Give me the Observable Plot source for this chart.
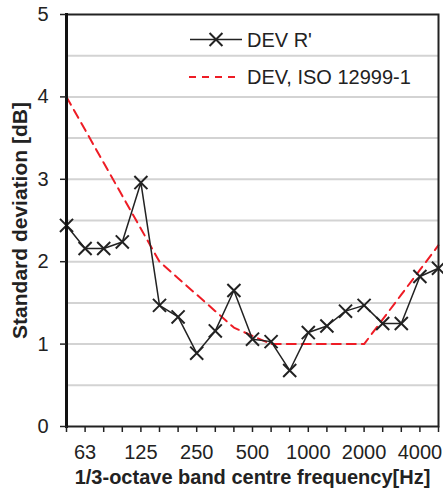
<!DOCTYPE html>
<html>
<head>
<meta charset="utf-8">
<script src="https://cdn.jsdelivr.net/npm/d3@7"></script>
<script src="https://cdn.jsdelivr.net/npm/@observablehq/plot@0.6"></script>
<style>
  html, body { margin: 0; padding: 0; background: #fff; }
  #wrap { position: relative; width: 443px; height: 493px; font-family: 'Liberation Sans', Arial, sans-serif; }
  #legend { position: absolute; left: 0; top: 0; pointer-events: none; }
</style>
</head>
<body>
<div id="wrap"></div>
<script>
// 1/3-octave band centre frequencies (Hz)
const freqs = ["50","63","80","100","125","160","200","250","315","400","500","630","800","1000","1250","1600","2000","2500","3150","4000","5000"];
// DEV R' (measured standard deviation, dB)
const devR = [2.44, 2.16, 2.16, 2.24, 2.96, 1.47, 1.33, 0.89, 1.16, 1.65, 1.06, 1.03, 0.68, 1.14, 1.22, 1.40, 1.47, 1.25, 1.25, 1.82, 1.92];
// DEV, ISO 12999-1 (dB)
const iso = [4.0, 3.6, 3.2, 2.8, 2.4, 2.0, 1.8, 1.6, 1.4, 1.2, 1.1, 1.0, 1.0, 1.0, 1.0, 1.0, 1.0, 1.3, 1.6, 1.9, 2.2];
// axis tick labels
const xTickLabels = ["63","125","250","500","1000","2000","4000"];
const yTicks = [0, 1, 2, 3, 4, 5];
const yGrid = [0.5, 1, 1.5, 2, 2.5, 3, 3.5, 4, 4.5];
const seriesNames = ["DEV R'", "DEV, ISO 12999-1"];
const xTitle = "1/3-octave band centre frequency[Hz]";
const yTitle = "Standard deviation [dB]";

const data = freqs.map((f, i) => ({f, dev: devR[i], iso: iso[i]}));

const FONT = "'Liberation Sans', Arial, sans-serif";
const RED = "#ee1c25";
const INK = "#222";

const chart = Plot.plot({
  width: 443,
  height: 493,
  marginLeft: 66,
  marginRight: 5,
  marginTop: 14,
  marginBottom: 67,
  style: {fontFamily: FONT, fontSize: "20px", color: INK, background: "#fff", overflow: "visible"},
  x: {type: "point", domain: freqs, padding: 0, round: false, label: null},
  y: {domain: [0, 5], label: null},
  marks: [
    Plot.gridY(yGrid, {stroke: "#d3d3d3", strokeOpacity: 1, strokeWidth: 2}),
    Plot.line(data, {x: "f", y: "iso", stroke: RED, strokeWidth: 2, strokeDasharray: "9,6"}),
    Plot.line(data, {x: "f", y: "dev", stroke: INK, strokeWidth: 1.5}),
    Plot.dot(data, {x: "f", y: "dev", symbol: "times", r: 6, stroke: INK, strokeWidth: 2}),
    Plot.frame({stroke: INK, strokeWidth: 2}),
    Plot.frame({anchor: "left", stroke: "#111", strokeWidth: 3}),
    Plot.axisY({ticks: yTicks, tickSize: 6, tickPadding: 12, tickFormat: d => String(d), strokeWidth: 1.5}),
    Plot.axisX({ticks: freqs, tickSize: 6, tickPadding: 12, tickFormat: d => xTickLabels.includes(d) ? d : "", strokeWidth: 1.5}),
    Plot.text([xTitle], {frameAnchor: "bottom", lineAnchor: "middle", textAnchor: "middle", dy: 51, fontWeight: "bold", fontSize: 20, fill: INK}),
    Plot.text([yTitle], {frameAnchor: "left", lineAnchor: "middle", textAnchor: "middle", dx: -46, rotate: -90, fontWeight: "bold", fontSize: 21, fill: INK})
  ]
});

const wrap = document.getElementById("wrap");
wrap.appendChild(chart);

// Legend overlay (inside the plot area, top right)
const leg = d3.select(wrap).append("svg")
  .attr("id", "legend").attr("width", 443).attr("height", 100);
const g1 = leg.append("g").attr("transform", "translate(190,39.5)");
g1.append("line").attr("x1", 0).attr("x2", 52).attr("y1", 0).attr("y2", 0).attr("stroke", INK).attr("stroke-width", 1.5);
g1.append("path").attr("d", d3.symbol(d3.symbolTimes, 110)()).attr("transform", "translate(26,0)")
  .attr("fill", "none").attr("stroke", INK).attr("stroke-width", 2);
g1.append("text").attr("x", 57).attr("y", 7.2).attr("font-family", FONT).attr("font-size", 20).attr("fill", INK).text(seriesNames[0]);
const g2 = leg.append("g").attr("transform", "translate(189,77)");
g2.append("line").attr("x1", 0).attr("x2", 52).attr("y1", 0).attr("y2", 0).attr("stroke", RED).attr("stroke-width", 2).attr("stroke-dasharray", "7,6");
g2.append("text").attr("x", 58).attr("y", 7.2).attr("font-family", FONT).attr("font-size", 20).attr("fill", INK).text(seriesNames[1]);
</script>
</body>
</html>
